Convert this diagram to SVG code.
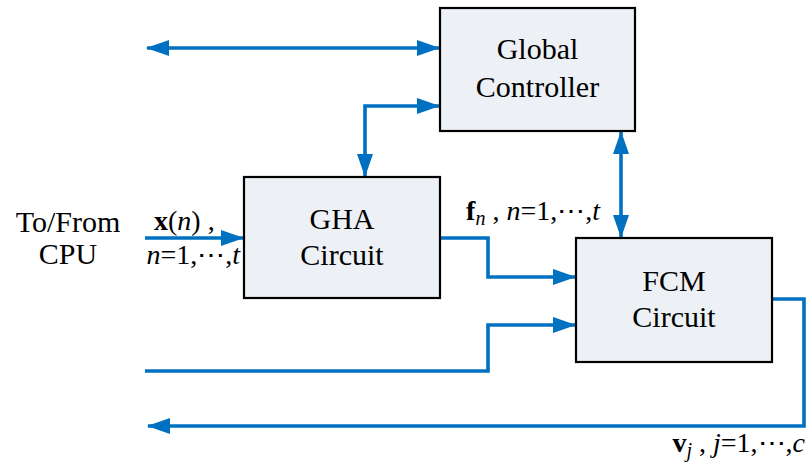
<svg xmlns="http://www.w3.org/2000/svg" width="807" height="468" viewBox="0 0 807 468">
<style>
.box{fill:#edf0f5;stroke:#000;stroke-width:2.2}
.lbl{font-family:'Liberation Serif','DejaVu Serif',serif;font-size:30px;fill:#000}
.math{font-family:'Liberation Serif','DejaVu Serif',serif;font-size:28px;fill:#000}
.conn{fill:none;stroke:#0070c0;stroke-width:3.6;stroke-linejoin:miter}
</style>
<defs>
<marker id="ah" markerUnits="userSpaceOnUse" markerWidth="24" markerHeight="18" refX="22" refY="8" orient="auto-start-reverse" viewBox="0 0 24 16">
<path d="M0,0 L23,8 L0,16 z" fill="#0070c0"/>
</marker>
</defs>
<g id="connectors">
<path class="conn" d="M147,48 L439,48" marker-start="url(#ah)" marker-end="url(#ah)"/>
<path class="conn" d="M439,106 L365,106 L365,176" marker-start="url(#ah)" marker-end="url(#ah)"/>
<path class="conn" d="M621,132 L621,237" marker-start="url(#ah)" marker-end="url(#ah)"/>
<path class="conn" d="M145,238 L243,238" marker-end="url(#ah)"/>
<path class="conn" d="M441,238 L488,238 L488,277 L575,277" marker-end="url(#ah)"/>
<path class="conn" d="M145,371 L488,371 L488,325 L575,325" marker-end="url(#ah)"/>
<path class="conn" d="M773,299 L804,299 L804,426 L148,426" marker-end="url(#ah)"/>
</g>
<g id="global-controller">
<rect class="box" x="440" y="8" width="195" height="123"/>
<text class="lbl" x="537.5" y="59" text-anchor="middle">Global</text>
<text class="lbl" x="537.5" y="97" text-anchor="middle">Controller</text>
</g>
<g id="gha-circuit">
<rect class="box" x="244" y="177" width="196" height="121"/>
<text class="lbl" x="342" y="229" text-anchor="middle">GHA</text>
<text class="lbl" x="342" y="265" text-anchor="middle">Circuit</text>
</g>
<g id="fcm-circuit">
<rect class="box" x="576" y="238" width="196" height="124"/>
<text class="lbl" x="674" y="291" text-anchor="middle">FCM</text>
<text class="lbl" x="674" y="327" text-anchor="middle">Circuit</text>
</g>
<g id="cpu-label">
<text class="lbl" x="68" y="232" text-anchor="middle">To/From</text>
<text class="lbl" x="68" y="264" text-anchor="middle">CPU</text>
</g>
<g id="labels">
<text class="math" x="154" y="230"><tspan font-weight="bold">x</tspan>(<tspan font-style="italic">n</tspan>) ,</text>
<text class="math" x="240" y="264" text-anchor="end"><tspan font-style="italic">n</tspan>=1,⋯,<tspan font-style="italic">t</tspan></text>
<text class="math" x="600" y="220" text-anchor="end"><tspan font-weight="bold">f</tspan><tspan font-style="italic" font-size="20" dy="5">n</tspan><tspan dy="-5"> , </tspan><tspan font-style="italic">n</tspan>=1,⋯,<tspan font-style="italic">t</tspan></text>
<text class="math" x="805" y="452" text-anchor="end"><tspan font-weight="bold">v</tspan><tspan font-style="italic" font-size="20" dy="5">j</tspan><tspan dy="-5"> , </tspan><tspan font-style="italic">j</tspan>=1,⋯,<tspan font-style="italic">c</tspan></text>
</g>
</svg>
